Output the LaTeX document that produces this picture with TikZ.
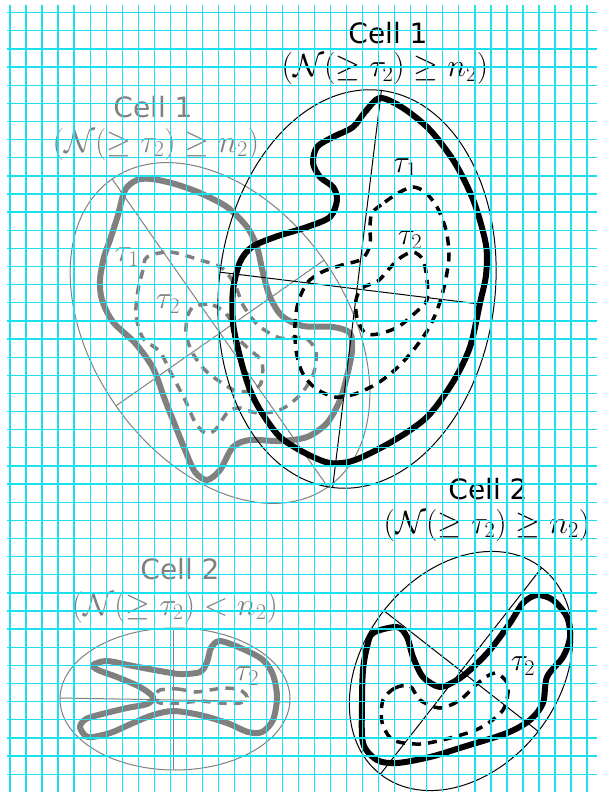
\RequirePackage{fix-cm}
\documentclass[tikz,border=0pt]{standalone}
\usepackage{fontspec}
\setmainfont{DejaVu Sans}
\usetikzlibrary{positioning}
\definecolor{gccyan}{RGB}{25,225,240}
\definecolor{gcgris}{RGB}{128,128,128}

\begin{document}
\begin{tikzpicture}[x=1pt,y=-1pt,
  titre/.style={anchor=base,inner sep=0pt,font=\fontsize{28}{32}\selectfont},
  cond/.style={anchor=base,inner sep=0pt,font=\fontsize{32}{36}\selectfont},
  seuil/.style={inner sep=0pt,font=\fontsize{32}{36}\selectfont},
  contour/.style={line width=6pt,line join=round},
  niveau/.style={line width=3.5pt,dash pattern=on 9pt off 7pt},
  axe/.style={line width=1pt},
  grille/.style={gccyan,line width=1.3pt}]
  \useasboundingbox (0,0) rectangle (597,792);
  \fill[white] (0,0) rectangle (597,792);

  % cellule 1 grise
  \begin{scope}[gcgris]
    \begin{scope}[shift={(220,333)},rotate=35]
      \draw[axe] (0,0) ellipse [x radius=127,y radius=188];
      \draw[axe] (0,-188) -- (0,188);
      \draw[axe] (-127,0) -- (127,0);
    \end{scope}
    \draw[contour] plot[smooth cycle] coordinates {(110,240) (118,215) (125,190)
      (137,180) (152,179) (175,184) (200,193) (227,207) (247,227) (257,247)
      (263,273) (270,297) (282,316) (303,326) (333,327) (350,333) (352,350)
      (348,372) (340,400) (327,423) (307,437) (280,441) (250,440) (233,447)
      (220,470) (207,480) (195,472) (185,450) (175,425) (165,400) (153,368)
      (135,343) (113,322) (102,300) (100,280) (104,257)};
    \draw[niveau] plot[smooth cycle] coordinates {(147,257) (170,252) (200,260)
      (222,268) (235,285) (243,305) (258,325) (280,338) (305,338) (316,352)
      (313,375) (300,395) (280,410) (257,413) (240,408) (228,412) (215,430)
      (205,433) (195,422) (185,400) (172,375) (160,352) (143,338) (136,315)
      (138,290) (143,270)};
    \draw[niveau] plot[smooth cycle] coordinates {(195,306) (213,305) (228,316)
      (235,335) (250,350) (262,362) (260,385) (240,392) (222,383) (205,370)
      (192,352) (186,333) (188,315)};
    \node[titre] (titreUnG) at (153,117) {Cell 1};
    \node[cond] (condUnG) at (156,152) {$(\mathcal{N}(\geq\tau_2)\geq n_2)$};
    \node[seuil] (tauUnG) at (127,257) {$\tau_1$};
    \node[seuil] (tauDeuxG) at (168,304) {$\tau_2$};
  \end{scope}

  % cellule 1 noire
  \begin{scope}[shift={(357,289)},rotate=-7]
    \draw[axe] (0,0) ellipse [x radius=138,y radius=200];
    \draw[axe] (0,-200) -- (0,200);
    \draw[axe] (-138,0) -- (124,0);
  \end{scope}
  \draw[contour] plot[smooth cycle] coordinates {(380,98) (403,108) (430,130)
    (455,163) (474,202) (486,245) (486,275) (480,303) (470,347) (453,382)
    (427,417) (393,441) (355,460) (330,463) (305,453) (280,437) (262,413)
    (250,390) (240,357) (233,323) (233,290) (240,262) (252,247) (275,237)
    (307,227) (330,217) (337,200) (333,187) (320,177) (313,163) (317,147)
    (333,137) (353,127) (365,112)};
  \draw[niveau] plot[smooth cycle] coordinates {(372,213) (385,202) (400,192)
    (413,187) (425,192) (437,207) (446,230) (449,255) (446,278) (440,302)
    (430,326) (415,348) (398,367) (378,383) (355,394) (335,397) (315,388)
    (302,372) (296,350) (295,325) (298,303) (307,283) (322,272) (342,265)
    (362,259) (370,245) (370,228)};
  \draw[niveau] plot[smooth cycle] coordinates {(388,270) (400,258) (413,252)
    (423,260) (427,280) (427,300) (415,313) (398,327) (378,334) (365,333)
    (357,318) (356,300) (362,288) (378,281)};
  \node[titre] (titreUn) at (388,44) {Cell 1};
  \node[cond] (condUn) at (385,77) {$(\mathcal{N}(\geq\tau_2)\geq n_2)$};
  \node[seuil] (tauUn) at (405,168) {$\tau_1$};
  \node[seuil] (tauDeux) at (410,240) {$\tau_2$};

  % cellule 2 grise
  \begin{scope}[gcgris]
    \draw[axe] (175,699) ellipse [x radius=115,y radius=71];
    \draw[axe] (60,698) -- (290,702);
    \draw[axe] (173,628) -- (173,770);
    \draw[contour] plot[smooth cycle] coordinates {(93,665) (107,661) (133,666)
      (160,671) (180,674) (200,672) (207,662) (211,648) (220,641) (243,649)
      (263,660) (273,675) (277,697) (273,720) (262,732) (248,732) (227,723)
      (200,715) (173,711) (153,715) (133,723) (110,733) (88,737) (80,727)
      (86,719) (102,714) (127,708) (147,704) (153,697) (140,687) (117,677)
      (98,670)};
    \draw[niveau] plot[smooth cycle] coordinates {(160,690) (178,689) (195,692)
      (210,690) (225,688) (240,690) (247,697) (240,703) (220,703) (200,701)
      (180,703) (160,703) (155,697)};
    \node[titre] (titreDeuxG) at (180,579) {Cell 2};
    \node[cond] (condDeuxG) at (175,615) {$(\mathcal{N}(\geq\tau_2)<n_2)$};
    \node[seuil] (tauCellDeuxG) at (247,676) {$\tau_2$};
  \end{scope}

  % cellule 2 noire
  \begin{scope}[shift={(461,671)},rotate=-38]
    \draw[axe] (0,0) ellipse [x radius=98,y radius=131];
    \draw[axe] (0,-131) -- (0,131);
    \draw[axe] (-98,0) -- (98,0);
  \end{scope}
  \draw[contour] plot[smooth cycle] coordinates {(373,633) (397,627) (407,637)
    (413,657) (423,677) (440,687) (457,680) (470,670) (490,650) (510,623)
    (523,603) (537,595) (553,600) (567,617) (570,637) (563,657) (547,677)
    (543,703) (530,720) (507,733) (463,747) (430,757) (397,763) (377,760)
    (363,743) (362,703) (363,670) (367,647)};
  \draw[niveau] plot[smooth cycle] coordinates {(383,700) (395,688) (410,686)
    (420,700) (440,708) (460,700) (478,683) (495,673) (508,685) (503,710)
    (480,728) (450,738) (420,744) (393,740) (382,722)};
  \node[titre] (titreDeux) at (488,499) {Cell 2};
  \node[cond] (condDeux) at (487,533) {$(\mathcal{N}(\geq\tau_2)\geq n_2)$};
  \node[seuil] (tauCellDeux) at (523,666) {$\tau_2$};

  % papier quadrille par-dessus
  \foreach \i in {0,...,36}
    \draw[grille] ({10+16.03*\i},5) -- ({10+16.03*\i},792);
  \foreach \j in {0,...,42}
    \draw[grille] (7,{12.7+18.13*\j}) -- (597,{12.7+18.13*\j});
\end{tikzpicture}
\end{document}
